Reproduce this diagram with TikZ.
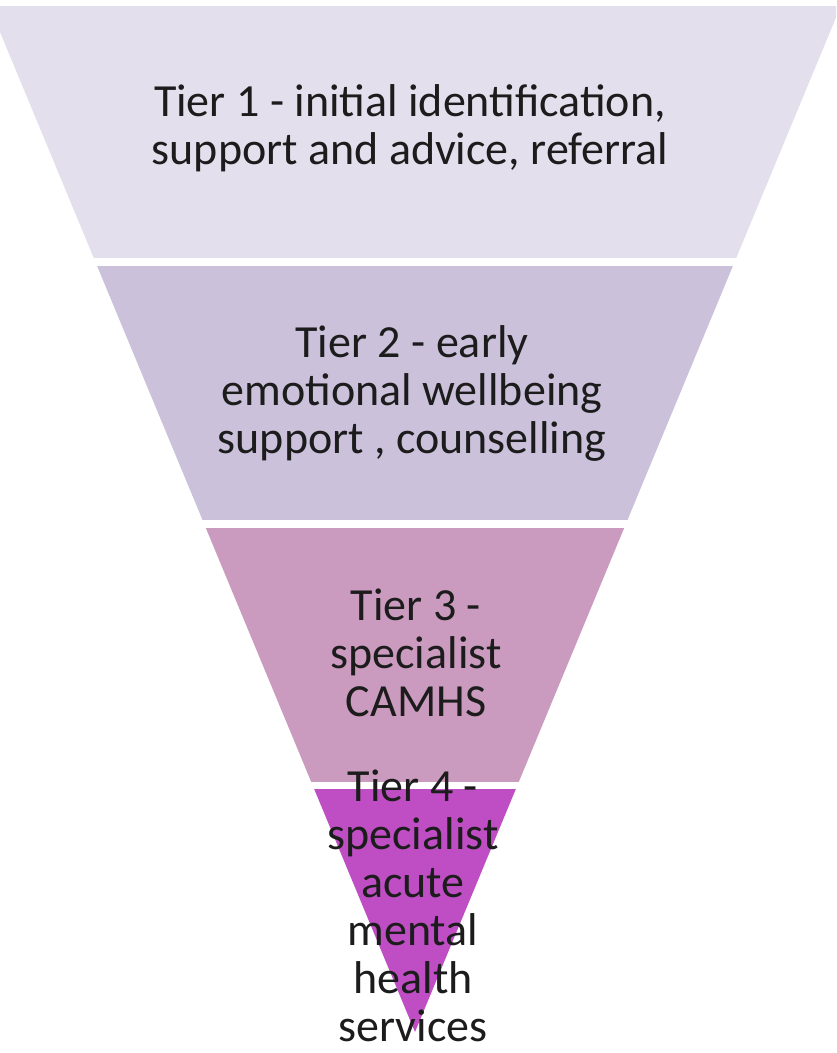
\documentclass[tikz,border=0pt]{standalone}
\usepackage{fontspec}
\setmainfont{Carlito}
\definecolor{tierone}{HTML}{E3DFEC}
\definecolor{tiertwo}{HTML}{CBC1DB}
\definecolor{tierthree}{HTML}{CB9BBF}
\definecolor{tierfour}{HTML}{BF4EC5}
\definecolor{labelink}{HTML}{1C1C1C}
\tikzset{
  tierlabel/.style={align=center, text=labelink, inner sep=0pt,
    font=\fontsize{46}{48}\selectfont},
}
\begin{document}
\begin{tikzpicture}[x=1pt,y=-1pt]
\useasboundingbox (0,0) rectangle (836,1053);
% inverted triangle, cut into four horizontal tiers
\coordinate (tl) at (-10.8,6);
\coordinate (tr) at (840.8,6);
\coordinate (apex) at (415,1032);
\begin{scope}
  \clip (0,0) rectangle (836,1053);
  \clip (tl) -- (tr) -- (apex) -- cycle;
  \fill[tierone]   (-20,6)   rectangle (860,258);
  \fill[tiertwo]   (-20,266) rectangle (860,520);
  \fill[tierthree] (-20,528) rectangle (860,782);
  \fill[tierfour]  (-20,789) rectangle (860,1040);
\end{scope}
\node[tierlabel] (t1) at (410,128) {Tier 1 - initial identification,\\support and advice, referral};
\node[tierlabel] (t2) at (412,393) {Tier 2 - early\\emotional wellbeing\\support , counselling};
\node[tierlabel] (t3) at (416,653) {Tier 3 -\\specialist\\CAMHS};
\node[tierlabel] (t4) at (413,906) {Tier 4 -\\specialist\\acute\\mental\\health\\services};
\end{tikzpicture}
\end{document}
